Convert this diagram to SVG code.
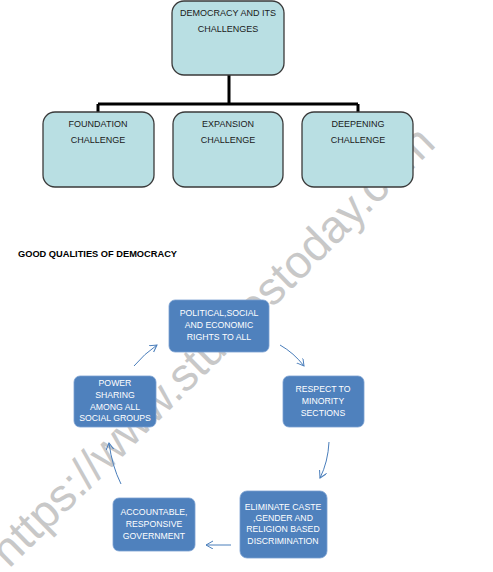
<svg xmlns="http://www.w3.org/2000/svg" width="493" height="572" viewBox="0 0 493 572">
<style>
.tbox{fill:#b9dfe3;stroke:#3a3a3a;stroke-width:1.3}
.ttxt{font-family:"Liberation Sans",Arial,sans-serif;font-size:9px;fill:#1a1a1a;text-anchor:middle}
.bbox{fill:#4f81bd;stroke:#7aa0d0;stroke-width:0.8}
.btxt{font-family:"Liberation Sans",Arial,sans-serif;font-size:8.7px;fill:#ffffff;text-anchor:middle}
.tree{stroke:#000;stroke-width:3;fill:none}
.arr{stroke:#4a7ebb;stroke-width:1;fill:none;marker-end:url(#ah)}
.wm{font-family:"Liberation Sans",Arial,sans-serif;font-size:46px;fill:#c8c8c8}
</style>
<defs>
<marker id="ah" markerWidth="10" markerHeight="10" refX="7" refY="4" orient="auto" markerUnits="userSpaceOnUse">
<path d="M0,0 L7,4 L0,8" fill="none" stroke="#4a7ebb" stroke-width="1"/>
</marker>
</defs>
<rect width="493" height="572" fill="#ffffff"/>
<text class="wm" transform="translate(9,569) rotate(-44.7)">https://www.studiestoday.com</text>
<g id="connectors">
<path class="tree" d="M229,75 V104 M98,104 H358 M98,104 V112 M358,104 V112"/>
<path class="arr" d="M134,366 Q144,354 157,345"/>
<path class="arr" d="M280,345 Q294,353 304,366"/>
<path class="arr" d="M329,442 Q328,462 320,478"/>
<path class="arr" d="M231,545 L206,545"/>
<path class="arr" d="M121,484 Q112,466 109,443"/>
</g>
<g id="democracy">
<rect class="tbox" x="172" y="1" width="112" height="74" rx="12"/>
<text class="ttxt" x="228" y="16">DEMOCRACY AND ITS</text>
<text class="ttxt" x="228" y="32">CHALLENGES</text>
</g>
<g id="foundation">
<rect class="tbox" x="43" y="112" width="111" height="75" rx="12"/>
<text class="ttxt" x="98" y="127">FOUNDATION</text>
<text class="ttxt" x="98" y="143">CHALLENGE</text>
</g>
<g id="expansion">
<rect class="tbox" x="173" y="112" width="110" height="75" rx="12"/>
<text class="ttxt" x="228" y="127">EXPANSION</text>
<text class="ttxt" x="228" y="143">CHALLENGE</text>
</g>
<g id="deepening">
<rect class="tbox" x="302" y="112" width="111" height="75" rx="12"/>
<text class="ttxt" x="358" y="127">DEEPENING</text>
<text class="ttxt" x="358" y="143">CHALLENGE</text>
</g>
<g id="heading">
<text x="18" y="257" font-family="'Liberation Sans',Arial,sans-serif" font-size="8.5" font-weight="bold" fill="#000" textLength="159" lengthAdjust="spacingAndGlyphs">GOOD QUALITIES OF DEMOCRACY</text>
</g>
<g id="rights">
<rect class="bbox" x="169" y="300" width="100" height="52" rx="6"/>
<text class="btxt" x="219" y="316">POLITICAL,SOCIAL</text>
<text class="btxt" x="219" y="328">AND ECONOMIC</text>
<text class="btxt" x="219" y="340">RIGHTS TO  ALL</text>
</g>
<g id="respect">
<rect class="bbox" x="283" y="376" width="81" height="51" rx="6"/>
<text class="btxt" x="323" y="392">RESPECT  TO</text>
<text class="btxt" x="323" y="404">MINORITY</text>
<text class="btxt" x="323" y="416">SECTIONS</text>
</g>
<g id="eliminate">
<rect class="bbox" x="240" y="491" width="87" height="67" rx="7"/>
<text class="btxt" x="283" y="510">ELIMINATE CASTE</text>
<text class="btxt" x="283" y="521">,GENDER AND</text>
<text class="btxt" x="283" y="532">RELIGION BASED</text>
<text class="btxt" x="283" y="544">DISCRIMINATION</text>
</g>
<g id="accountable">
<rect class="bbox" x="113" y="498" width="82" height="53" rx="6"/>
<text class="btxt" x="154" y="515">ACCOUNTABLE,</text>
<text class="btxt" x="154" y="527">RESPONSIVE</text>
<text class="btxt" x="154" y="539">GOVERNMENT</text>
</g>
<g id="power">
<rect class="bbox" x="74" y="376" width="82" height="51" rx="6"/>
<text class="btxt" x="115" y="386">POWER</text>
<text class="btxt" x="115" y="398">SHARING</text>
<text class="btxt" x="115" y="410">AMONG ALL</text>
<text class="btxt" x="115" y="421">SOCIAL GROUPS</text>
</g>
</svg>
